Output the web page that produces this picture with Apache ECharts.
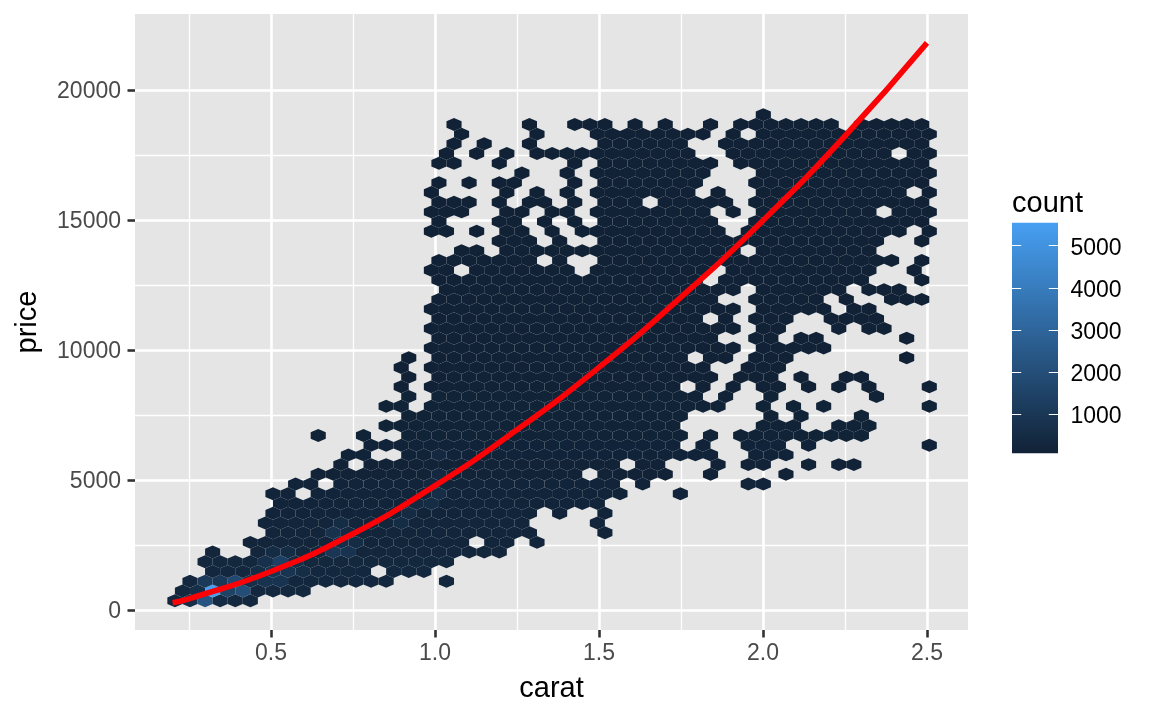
<!DOCTYPE html>
<html>
<head>
<meta charset="utf-8">
<style>html,body{margin:0;padding:0;background:#fff}#c{width:1152px;height:711px}</style>
<script src="https://cdn.jsdelivr.net/npm/echarts@6/dist/echarts.min.js"></script>
</head>
<body>
<div id="c"></div>
<script>
// Hexagon lattice
const caratStart = 0.184, caratHalfStep = 0.023;
const priceStart = 377, priceRowStep = 373.85;

// occupied half-columns of every hex row, bottom row first: [from, to] inclusive, step 2
const hexRows = [
 [[1,11]],
 [[2,18]],
 [[3,29],[37,37]],
 [[6,26],[30,34]],
 [[5,37]],
 [[6,6],[12,44]],
 [[11,39],[43,45],[49,49]],
 [[14,48],[58,58]],
 [[13,47],[57,57]],
 [[14,48],[52,52],[58,58]],
 [[15,57]],
 [[14,16],[20,60],[68,68]],
 [[17,19],[23,59],[63,63],[77,79]],
 [[20,54],[58,66],[72,72],[82,82]],
 [[23,23],[27,59],[63,65],[73,73],[77,79],[85,85],[89,91]],
 [[24,26],[32,72],[78,82]],
 [[27,67],[71,71],[77,81],[85,85],[101,101]],
 [[20,20],[26,26],[32,68],[72,72],[76,92]],
 [[29,67],[79,83],[89,93]],
 [[32,68],[80,80],[84,84],[92,92]],
 [[29,31],[35,73],[79,79],[83,83],[87,87],[101,101]],
 [[32,32],[36,70],[74,74],[80,80],[94,94]],
 [[31,31],[35,67],[71,71],[75,75],[79,81],[85,85],[89,89],[93,93],[101,101]],
 [[32,32],[36,72],[76,80],[84,84],[90,92]],
 [[31,31],[35,71],[77,81]],
 [[32,32],[36,68],[72,74],[78,82],[98,98]],
 [[35,75],[79,87]],
 [[36,72],[78,80],[84,86],[98,98]],
 [[35,75],[79,81],[89,89],[93,95]],
 [[36,70],[74,74],[78,82],[88,94]],
 [[35,75],[79,87],[91,93]],
 [[36,72],[78,86],[90,90],[96,100]],
 [[37,75],[79,89],[93,97]],
 [[36,70],[74,92],[100,100]],
 [[35,37],[41,53],[57,71],[75,93],[99,99]],
 [[36,48],[52,52],[58,96],[100,100]],
 [[39,41],[45,75],[79,93]],
 [[44,48],[52,52],[58,94],[100,100]],
 [[35,37],[41,41],[45,47],[51,51],[55,73],[77,97],[101,101]],
 [[36,36],[44,46],[50,50],[54,54],[58,72],[78,100]],
 [[35,39],[45,47],[51,53],[57,71],[75,75],[79,93],[97,101]],
 [[36,40],[44,44],[48,50],[54,54],[58,62],[66,74],[78,100]],
 [[35,35],[45,45],[49,49],[53,53],[57,69],[73,73],[79,97],[101,101]],
 [[36,36],[40,40],[44,46],[54,54],[58,70],[78,100]],
 [[47,47],[53,53],[57,71],[79,101]],
 [[36,38],[44,44],[54,54],[58,72],[76,100]],
 [[37,37],[41,41],[45,45],[49,69],[75,95],[99,101]],
 [[38,38],[42,42],[48,48],[58,68],[74,100]],
 [[39,39],[49,49],[57,71],[75,75],[79,101]],
 [[38,38],[48,48],[54,58],[62,62],[66,66],[72,72],[76,88],[92,100]],
 [[79,79]]
];
// usual count of a hex in each row
const rowCounts = [300,300,300,300,280,240,220,200,190,180,170,160,150,140,130,125,120,115,110,105,
 100,100,95,95,90,90,90,90,88,88,88,85,85,85,85,85,85,85,85,85,85,85,85,85,85,85,85,85,85,85,85];
// hexes visibly lighter than their row: [row, half-column, count]
const denseHexes = [
 [1,6,5548],[0,5,2200],[2,9,1800],[1,10,2000],[1,8,1500],[2,5,1100],[2,7,1000],[1,4,600],[0,3,600],
 [0,7,450],[0,9,350],[4,15,1400],[4,13,700],[5,14,500],[2,15,800],[2,13,800],[3,14,900],[3,16,850],
 [2,11,600],[3,12,550],[4,17,550],[3,18,550],[5,16,500],
 [7,22,750],[5,22,950],[5,24,800],[8,23,520],[6,23,620],[6,25,520],[9,25,380],[7,24,480],
 [8,31,520],[9,32,480],[11,36,560],[10,35,500],[13,36,400],[15,36,330],[12,35,360],[10,33,380]
];
// fitted curve
const curveCarat = [0.2,0.25,0.5,0.75,1.0,1.25,1.5,1.75,2.0,2.25,2.5];
const curvePrice = [300,450,1500,2950,4800,6950,9350,12050,15000,18250,21830];
// axes
const xTicks = [0.5,1.0,1.5,2.0,2.5];
const xMinorGrid = [0.25,0.75,1.25,1.75,2.25];
const yTicks = [0,5000,10000,15000,20000];
const yMinorGrid = [2500,7500,12500,17500];
const countTicks = [1000,2000,3000,4000,5000];
const countMin = 75, countMax = 5546;
const lowColor = '#112236', highColor = '#479FF2';

const denseMap = {};
denseHexes.forEach(d => denseMap[d[0] + '_' + d[1]] = d[2]);
const hexData = [];
hexRows.forEach((ranges, r) => ranges.forEach(rg => {
  for (let k = rg[0]; k <= rg[1]; k += 2) {
    hexData.push([caratStart + caratHalfStep * k, priceStart + priceRowStep * r,
      denseMap[r + '_' + k] || rowCounts[r]]);
  }
}));

const font = 'Liberation Sans';
const xMin = 0.08537, xMax = 2.625, yMin = -750, yMax = 22942;

function renderHex(params, api) {
  const x = api.value(0), y = api.value(1);
  const w = caratHalfStep, h = priceRowStep * 2 / 3;
  const pts = [[x, y + h], [x + w, y + h / 2], [x + w, y - h / 2], [x, y - h], [x - w, y - h / 2], [x - w, y + h / 2]]
    .map(p => api.coord(p));
  return { type: 'polygon', shape: { points: pts }, style: { fill: api.visual('color') }, silent: true };
}
function renderBar(params, api) {
  const a = api.coord([0, countMax]), b = api.coord([1, countMin]);
  return {
    type: 'rect', shape: { x: a[0], y: a[1], width: b[0] - a[0], height: b[1] - a[1] },
    style: { fill: new echarts.graphic.LinearGradient(0, 1, 0, 0, [{ offset: 0, color: lowColor }, { offset: 1, color: highColor }]) },
    silent: true
  };
}

const chart = echarts.init(document.getElementById('c'), null, { renderer: 'canvas' });
const minorSplit = { show: true, lineStyle: { color: '#fff', width: 1.3 } };
const hiddenAxisBits = { axisLine: { show: false, onZero: false }, axisLabel: { show: false } };
chart.setOption({
  animation: false,
  backgroundColor: '#fff',
  textStyle: { fontFamily: font },
  title: { text: 'count', left: 1012, top: 189, padding: 0, textStyle: { fontFamily: font, fontSize: 29, fontWeight: 'normal', color: '#000' } },
  grid: [
    { left: 135, top: 14, width: 833, height: 616, show: true, backgroundColor: '#E5E5E5', borderWidth: 0 },
    { left: 1012, top: 222.7, width: 46, height: 230.6 }
  ],
  visualMap: { show: false, seriesIndex: 0, dimension: 2, min: countMin, max: countMax, inRange: { color: [lowColor, highColor] } },
  xAxis: [
    { type: 'value', gridIndex: 0, min: xMin, max: xMax, name: 'carat', nameLocation: 'middle', nameGap: 44,
      nameTextStyle: { fontFamily: font, fontSize: 29, color: '#000' },
      axisLine: { show: false, onZero: false },
      axisTick: { show: true, length: 7.5, customValues: xTicks, lineStyle: { color: '#333', width: 2.6 } },
      axisLabel: { show: true, customValues: xTicks, margin: 12, fontSize: 23, color: '#4A4A4A', fontFamily: font, formatter: v => v.toFixed(1), hideOverlap: false },
      splitLine: { show: true, lineStyle: { color: '#fff', width: 2.6 } } },
    Object.assign({ type: 'value', gridIndex: 0, min: xMin, max: xMax, axisTick: { show: false, customValues: xMinorGrid }, splitLine: minorSplit }, hiddenAxisBits),
    { type: 'value', gridIndex: 1, min: 0, max: 1, show: false }
  ],
  yAxis: [
    { type: 'value', gridIndex: 0, min: yMin, max: yMax, name: 'price', nameLocation: 'middle', nameGap: 93, nameRotate: 90,
      nameTextStyle: { fontFamily: font, fontSize: 29, color: '#000' },
      axisLine: { show: false, onZero: false },
      axisTick: { show: true, length: 7.5, customValues: yTicks, lineStyle: { color: '#333', width: 2.6 } },
      axisLabel: { show: true, customValues: yTicks, margin: 14, fontSize: 23, color: '#4A4A4A', fontFamily: font, formatter: v => '{a|' + v + '}',
        rich: { a: { fontSize: 23, color: '#4A4A4A', fontFamily: font, padding: [3, 0, 0, 0] } } },
      splitLine: { show: true, lineStyle: { color: '#fff', width: 2.6 } } },
    Object.assign({ type: 'value', gridIndex: 0, min: yMin, max: yMax, axisTick: { show: false, customValues: yMinorGrid }, splitLine: minorSplit }, hiddenAxisBits),
    { type: 'value', gridIndex: 1, position: 'right', z: 5, min: countMin, max: countMax, axisLine: { show: false, onZero: false }, splitLine: { show: false },
      axisTick: { show: true, inside: true, length: 9.2, customValues: countTicks, lineStyle: { color: '#fff', width: 1 } },
      axisLabel: { show: true, customValues: countTicks, margin: 12.5, fontSize: 23, color: '#000', fontFamily: font, formatter: v => '{a|' + v + '}',
        rich: { a: { fontSize: 23, color: '#000', fontFamily: font, padding: [5, 0, 0, 0] } } } },
    { type: 'value', gridIndex: 1, position: 'left', z: 5, min: countMin, max: countMax, axisLine: { show: false, onZero: false }, splitLine: { show: false },
      axisTick: { show: true, inside: true, length: 9.2, customValues: countTicks, lineStyle: { color: '#fff', width: 1 } },
      axisLabel: { show: false } }
  ],
  series: [
    { type: 'custom', xAxisIndex: 0, yAxisIndex: 0, z: 2, data: hexData, encode: { x: 0, y: 1 }, renderItem: renderHex, silent: true },
    { type: 'line', xAxisIndex: 0, yAxisIndex: 0, z: 3, smooth: true, showSymbol: false, silent: true,
      lineStyle: { color: '#FB0207', width: 5.6, cap: 'butt' }, data: curveCarat.map((c, i) => [c, curvePrice[i]]) },
    { type: 'custom', xAxisIndex: 2, yAxisIndex: 2, z: 2, data: [[0, countMin, countMax]], encode: { x: 0, y: [1, 2] }, renderItem: renderBar, silent: true }
  ]
});
</script>
</body>
</html>
